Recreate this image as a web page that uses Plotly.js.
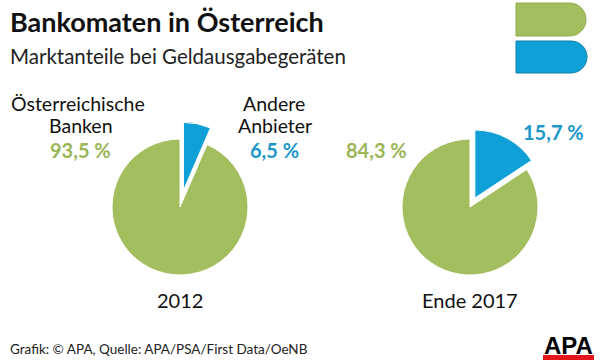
<!DOCTYPE html>
<html>
<head>
<meta charset="utf-8">
<script src="https://cdn.plot.ly/plotly-3.0.1.min.js"></script>
<style>html,body{margin:0;padding:0;background:#fff;}#chart{width:600px;height:360px;}</style>
</head>
<body>
<div id="chart"></div>
<script>
// ---- data ----
const years = ['2012', 'Ende 2017'];
const categories = ['Andere Anbieter', 'Österreichische Banken'];
const share2012 = [6.5, 93.5];
const share2017 = [15.7, 84.3];
const titleText = 'Bankomaten in Österreich';
const subtitleText = 'Marktanteile bei Geldausgabegeräten';
const sourceText = 'Grafik: © APA, Quelle: APA/PSA/First Data/OeNB';

// ---- styling ----
const GREEN = '#a3be5e';
const BLUE = '#0fa0d7';
const GREEN_T = '#9bb557';
const BLUE_T = '#1b97c8';
const FONT = 'Lato, "Open Sans", sans-serif';
const W = 600, H = 360;
const px = x => x / W;
const py = y => 1 - y / H;
const fmt = v => v.toFixed(1).replace('.', ',') + ' %';

function pieDomain(cx, cy, r, pull) {
  const half = r * (1 + pull);
  return { x: [px(cx - half), px(cx + half)], y: [py(cy + half), py(cy - half)] };
}

const baseTrace = {
  type: 'pie',
  labels: categories,
  sort: false,
  direction: 'clockwise',
  rotation: 0,
  textinfo: 'none',
  hoverinfo: 'none',
  showlegend: false,
  marker: { colors: [BLUE, GREEN], line: { color: '#ffffff', width: 1 } }
};

const traces = [
  Object.assign({}, baseTrace, { values: share2012, pull: [0.25, 0], domain: pieDomain(180, 207, 68, 0.25) }),
  Object.assign({}, baseTrace, { values: share2017, pull: [0.15, 0], domain: pieDomain(470, 207, 68, 0.15) })
];

function ann(text, x, y, size, color, opts) {
  return Object.assign({
    text: text, xref: 'paper', yref: 'paper', x: px(x), y: py(y),
    xanchor: 'center', yanchor: 'middle', showarrow: false,
    font: { family: FONT, size: size, color: color }
  }, opts || {});
}

const annotations = [
  ann('<b>' + titleText + '</b>', 8, 21, 27, '#111111', { xanchor: 'left' }),
  ann(subtitleText, 8, 56, 20.5, '#222222', { xanchor: 'left' }),
  ann('Österreichische', 78, 103, 19.5, '#111111'),
  ann('Banken', 81, 126, 19.5, '#111111'),
  ann('<b>' + fmt(share2012[1]) + '</b>', 80, 150, 20, GREEN_T),
  ann('Andere', 274, 103, 19.5, '#111111'),
  ann('Anbieter', 275, 126, 19.5, '#111111'),
  ann('<b>' + fmt(share2012[0]) + '</b>', 274, 150, 20, BLUE_T),
  ann('<b>' + fmt(share2017[1]) + '</b>', 376, 150, 20, GREEN_T),
  ann('<b>' + fmt(share2017[0]) + '</b>', 553, 132, 20, BLUE_T),
  ann(years[0], 180, 300, 20, '#111111'),
  ann(years[1], 470, 300, 20, '#111111'),
  ann(sourceText, 8, 349, 13.5, '#222222', { xanchor: 'left' }),
  ann('<b>APA</b>', 568, 345, 24, '#000000', { font: { family: '"Liberation Sans", Arial, sans-serif', size: 24, color: '#000' } })
];

function dShape(x0, y0, x1, y1, fill, line) {
  const r = (y1 - y0) / 2;
  const xs = x1 - r;
  const k = 0.5523 * r;
  const path = 'M' + px(x0) + ',' + py(y0) +
    ' L' + px(xs) + ',' + py(y0) +
    ' C' + px(xs + k) + ',' + py(y0) + ' ' + px(x1) + ',' + py(y0 + r - k) + ' ' + px(x1) + ',' + py(y0 + r) +
    ' C' + px(x1) + ',' + py(y0 + r + k) + ' ' + px(xs + k) + ',' + py(y1) + ' ' + px(xs) + ',' + py(y1) +
    ' L' + px(x0) + ',' + py(y1) + ' Z';
  return { type: 'path', xref: 'paper', yref: 'paper', path: path, fillcolor: fill, line: { color: line, width: 1 }, layer: 'above' };
}

const shapes = [
  dShape(516, 3, 586, 36, GREEN, '#8fab4e'),
  dShape(516, 41, 587, 73, BLUE, '#137fa6'),
  { type: 'rect', xref: 'paper', yref: 'paper', x0: px(543), x1: px(594), y0: py(360), y1: py(355), fillcolor: '#e4161b', line: { width: 0 } }
];

const layout = {
  width: W, height: H,
  margin: { l: 0, r: 0, t: 0, b: 0 },
  paper_bgcolor: '#ffffff',
  plot_bgcolor: '#ffffff',
  annotations: annotations,
  shapes: shapes
};

Plotly.newPlot('chart', traces, layout, { staticPlot: true, displayModeBar: false });
</script>
</body>
</html>
